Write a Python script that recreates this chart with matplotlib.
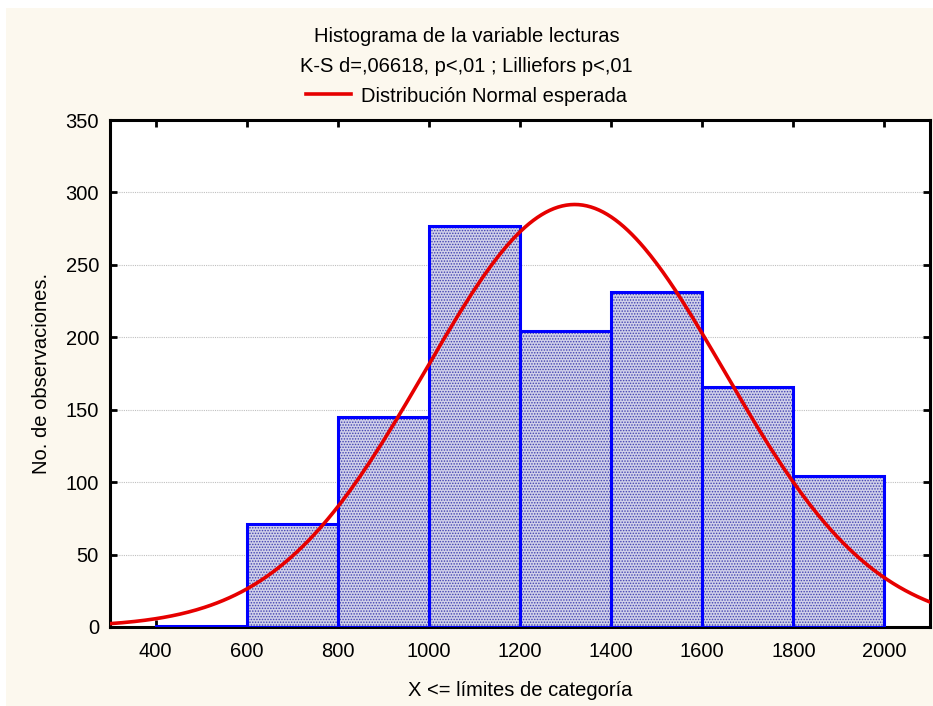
import numpy as np
import matplotlib
matplotlib.use("Agg")
import matplotlib.pyplot as plt
from matplotlib.patches import Rectangle

# bin edges (upper limits of categories) and counts
bin_left = [400, 600, 800, 1000, 1200, 1400, 1600, 1800]
bin_width = 200
counts = [1, 71, 145, 277, 204, 231, 166, 104]

# expected normal fit parameters
fit_mean = 1320
fit_sd = 328
n_obs = sum(counts)

x_ticks = [400, 600, 800, 1000, 1200, 1400, 1600, 1800, 2000]
y_ticks = [0, 50, 100, 150, 200, 250, 300, 350]

plt.rcParams["font.family"] = ["Liberation Sans", "DejaVu Sans"]
plt.rcParams["hatch.linewidth"] = 0.7

fig = plt.figure(figsize=(9.33, 7.06), dpi=100, facecolor="white")
fig.patches.append(Rectangle((6 / 933, 0), 1, 1 - 8 / 706, transform=fig.transFigure,
                             facecolor="#FCF8EE", edgecolor="none", zorder=-10))
ax = fig.add_axes([110 / 933, 1 - 627 / 706, 820 / 933, 507 / 706])
ax.set_facecolor("white")

# hatched fill
ax.bar(bin_left, counts, width=bin_width, align="edge", facecolor="#D0D0E9",
       edgecolor="#4040B0", hatch="......", linewidth=0, zorder=2)
# outlines
ax.bar(bin_left, counts, width=bin_width, align="edge", fill=False,
       edgecolor="#0000FF", linewidth=2.2, zorder=3)

xs = np.linspace(300, 2100, 400)
ys = n_obs * bin_width * np.exp(-0.5 * ((xs - fit_mean) / fit_sd) ** 2) / (fit_sd * np.sqrt(2 * np.pi))
line, = ax.plot(xs, ys, color="#E60000", linewidth=2.6, zorder=4,
                label="Distribución Normal esperada")

ax.set_xlim(300, 2100)
ax.set_ylim(0, 350)
ax.set_xticks(x_ticks)
ax.set_yticks(y_ticks)
ax.yaxis.grid(True, color="#C0C0C0", linestyle=(0, (1, 1)), linewidth=0.8, zorder=0)
ax.set_axisbelow(True)
ax.tick_params(direction="in", length=5, width=2, labelsize=14.5, colors="black",
               top=True, right=True, pad=8)
ax.tick_params(axis="x", pad=11)
for s in ax.spines.values():
    s.set_linewidth(2.2)

ax.set_xlabel("X <= límites de categoría", fontsize=14.5, labelpad=14)
ax.set_ylabel("No. de observaciones.", fontsize=14.5, labelpad=10)

fig.text(0.5, 1 - 37 / 706, "Histograma de la variable lecturas", ha="center", va="center", fontsize=14.5)
fig.text(0.5, 1 - 67 / 706, "K-S d=,06618, p<,01 ; Lilliefors p<,01", ha="center", va="center", fontsize=14.5)
fig.legend(handles=[line], loc="center", bbox_to_anchor=(0.5, 1 - 96 / 706), frameon=False,
           fontsize=14.5, handlelength=2.2, handletextpad=0.5)

fig.savefig("out.png", dpi=100, facecolor=fig.get_facecolor())
